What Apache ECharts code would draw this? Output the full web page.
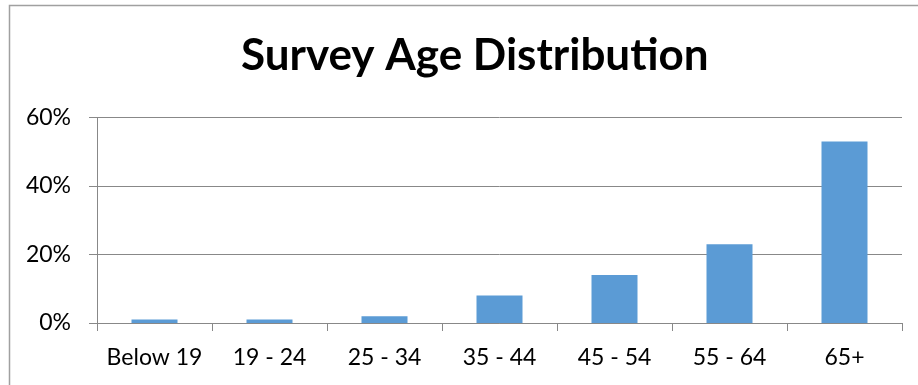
<!DOCTYPE html>
<html>
<head>
<meta charset="utf-8">
<script src="https://cdn.jsdelivr.net/npm/echarts@6/dist/echarts.min.js"></script>
<style>
html,body{margin:0;padding:0;background:#fff;}
#chart{width:918px;height:385px;}
</style>
</head>
<body>
<div id="chart"></div>
<script>
const categories = ['Below 19', '19 - 24', '25 - 34', '35 - 44', '45 - 54', '55 - 64', '65+'];
const values = [1, 1, 2, 8, 14, 23, 53];
const yTicks = [0, 20, 40, 60];

const chart = echarts.init(document.getElementById('chart'), null, {renderer: 'canvas'});
const FONT = 'Lato';
chart.setOption({
  animation: false,
  backgroundColor: '#fff',
  graphic: [{
    type: 'rect',
    shape: {x: 9.5, y: 5.5, width: 1000, height: 500},
    style: {fill: 'none', stroke: '#a0a0a0', lineWidth: 1.5},
    silent: true
  }],
  title: {
    text: 'Survey Age Distribution',
    left: 236,
    top: 29,
    textStyle: {fontFamily: FONT, fontWeight: 'bold', fontSize: 44, color: '#000'}
  },
  grid: {left: 97, right: 16, top: 117.5, bottom: 62, containLabel: false},
  xAxis: {
    type: 'category',
    data: categories,
    axisLine: {lineStyle: {color: '#888', width: 1}},
    axisTick: {show: true, length: 8, lineStyle: {color: '#888'}},
    axisLabel: {fontFamily: FONT, fontSize: 23, color: '#000', margin: 23, interval: 0}
  },
  yAxis: {
    type: 'value',
    min: yTicks[0],
    max: yTicks[yTicks.length - 1],
    interval: 20,
    axisLine: {show: true, lineStyle: {color: '#888', width: 1}},
    axisTick: {show: true, length: 8, lineStyle: {color: '#888'}},
    splitLine: {lineStyle: {color: '#888', width: 1}},
    axisLabel: {fontFamily: FONT, fontSize: 23, color: '#000', margin: 26, formatter: '{value}%'}
  },
  series: [{
    type: 'bar',
    data: values,
    barWidth: '40%',
    itemStyle: {color: '#5B9BD5'}
  }]
});
</script>
</body>
</html>
